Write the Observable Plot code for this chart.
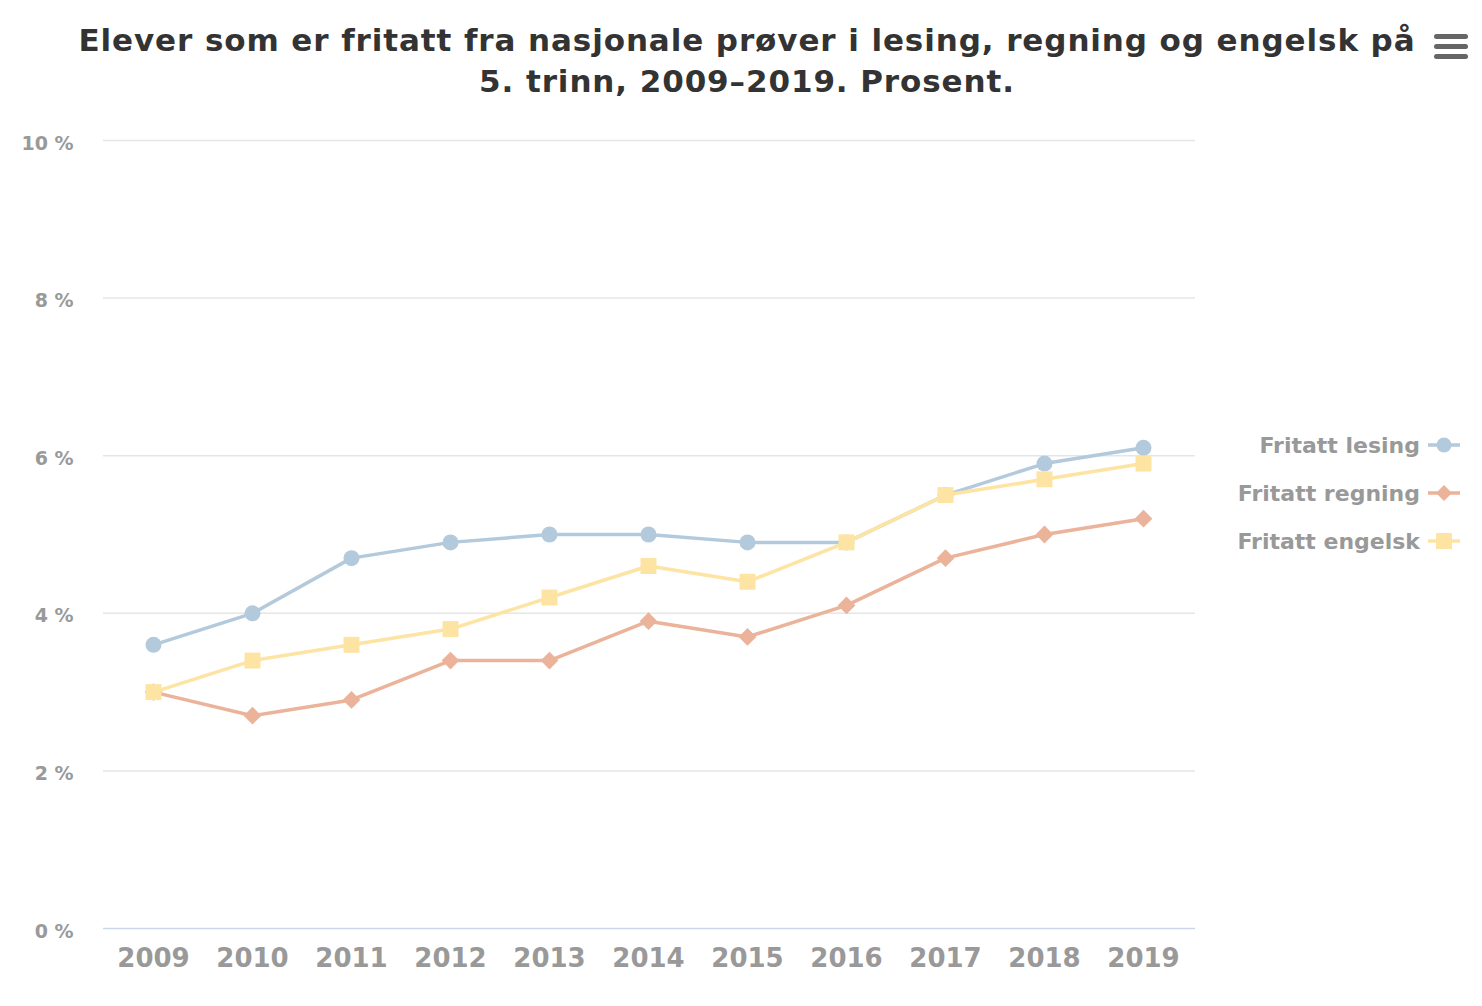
<!DOCTYPE html>
<html>
<head>
<meta charset="utf-8">
<script src="https://cdn.jsdelivr.net/npm/d3@7"></script>
<script src="https://cdn.jsdelivr.net/npm/@observablehq/plot@0.6"></script>
<style>
  body { margin: 0; background: #fff; font-family: "DejaVu Sans", sans-serif; }
  #wrap { position: relative; width: 1482px; height: 1006px; overflow: hidden; }
  #title { text-align: center; font-size: 31px; font-weight: bold; color: #333; line-height: 41px; padding-top: 20px; height: 82px; letter-spacing: 0.9px; padding-left: 12px; }
  #menu { position: absolute; left: 1434px; top: 34px; width: 34px; }
  #menu div { height: 5px; background: #666; border-radius: 3px; margin-bottom: 5px; }
  #legend { position: absolute; right: 22px; top: 421px; }
  .item { display: flex; align-items: center; justify-content: flex-end; height: 48px; font-size: 22px; font-weight: bold; color: #999; }
  .item svg { margin-left: 8px; }
</style>
</head>
<body>
<div id="wrap">
  <div id="title">Elever som er fritatt fra nasjonale prøver i lesing, regning og engelsk på<br>5. trinn, 2009–2019. Prosent.</div>
  <div id="menu"><div></div><div></div><div></div></div>
  <div id="chart"></div>
  <div id="legend"></div>
</div>
<script>
const years = ["2009","2010","2011","2012","2013","2014","2015","2016","2017","2018","2019"];
const lesing  = [3.6, 4.0, 4.7, 4.9, 5.0, 5.0, 4.9, 4.9, 5.5, 5.9, 6.1];
const regning = [3.0, 2.7, 2.9, 3.4, 3.4, 3.9, 3.7, 4.1, 4.7, 5.0, 5.2];
const engelsk = [3.0, 3.4, 3.6, 3.8, 4.2, 4.6, 4.4, 4.9, 5.5, 5.7, 5.9];
const seriesNames = ["Fritatt lesing", "Fritatt regning", "Fritatt engelsk"];
const colors = ["#b3c9dc", "#ebb39a", "#fde4a3"];
const symbols = ["circle", "diamond2", "square"];
const radii = [8, 8, 9];
const yTicks = [0, 2, 4, 6, 8, 10];

const seriesVals = [lesing, regning, engelsk];
const data = seriesVals.map((vals, i) => years.map((y, j) => ({year: y, value: vals[j], series: seriesNames[i]})));

const marks = [
  Plot.ruleY(yTicks.filter(d => d > 0), {stroke: "#e6e6e6", strokeWidth: 1.5}),
  Plot.ruleY([0], {stroke: "#ccd6eb", strokeWidth: 1.5}),
  Plot.axisY({ticks: yTicks, tickSize: 0, tickPadding: 30, tickFormat: d => d + " %", fontSize: 19, fontWeight: "bold", fill: "#999", dy: 3}),
  Plot.axisX({tickSize: 0, tickPadding: 20, fontSize: 26, fontWeight: "bold", fill: "#999"})
];
data.forEach((d, i) => {
  marks.push(Plot.line(d, {x: "year", y: "value", stroke: colors[i], strokeWidth: 3.5}));
});
data.forEach((d, i) => {
  marks.push(Plot.dot(d, {x: "year", y: "value", fill: colors[i], symbol: symbols[i], r: radii[i], stroke: "none"}));
});

const chart = Plot.plot({
  width: 1482,
  height: 886,
  marginTop: 38,
  marginBottom: 60,
  marginLeft: 103,
  marginRight: 287,
  style: {fontFamily: "DejaVu Sans, sans-serif", background: "transparent", overflow: "visible"},
  x: {type: "point", domain: years, padding: 0.49, align: 0.49, label: null},
  y: {domain: [0, 10], label: null},
  marks
});
document.getElementById("chart").appendChild(chart);

const legend = document.getElementById("legend");
const symPaths = [
  '<circle cx="16" cy="12" r="7.5" fill="COL"/>',
  '<path d="M16 4 L24 12 L16 20 L8 12 Z" fill="COL"/>',
  '<rect x="8" y="4" width="16" height="16" fill="COL"/>'
];
seriesNames.forEach((name, i) => {
  const div = document.createElement("div");
  div.className = "item";
  div.innerHTML = `<span>${name}</span><svg width="32" height="24"><line x1="0" y1="12" x2="32" y2="12" stroke="${colors[i]}" stroke-width="3.5"/>${symPaths[i].replace("COL", colors[i])}</svg>`;
  legend.appendChild(div);
});
</script>
</body>
</html>
